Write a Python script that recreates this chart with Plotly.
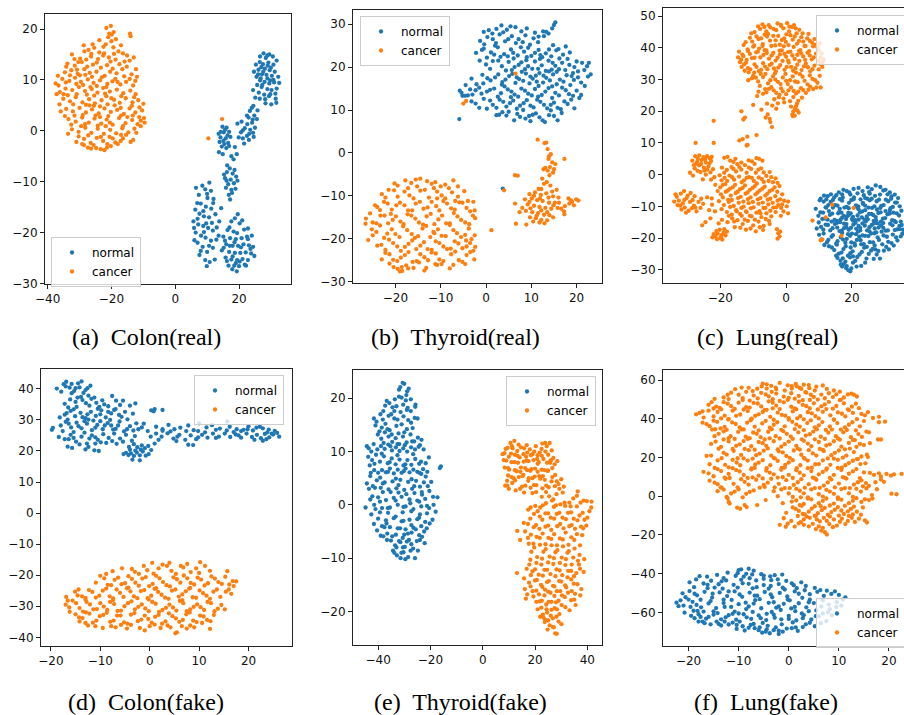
import plotly.graph_objects as go

# ---------------- data (t-SNE coordinates) ----------------
colon_real_cancer = [
(-21.6,20.2),(-20.2,20.6),(-19.3,19.4),(-21.0,18.4),(-20.0,17.6),(-18.6,18.0),(-14.2,19.1),(-14.0,18.6),(-21.8,17.0),(-19.4,16.4),
(-28.5,15.6),(-27.2,15.9),(-25.4,16.3),(-23.8,15.4),(-22.5,16.5),(-17.8,15.6),(-16.4,15.2),(-15.1,14.8),(-26.4,14.6),(-24.2,14.1),(-20.8,14.4),(-18.7,14.0),(-32.4,15.0),(-29.8,14.2),
(-33.8,13.2),(-31.5,12.8),(-29.3,13.5),(-27.6,12.6),(-25.8,13.0),(-23.3,12.4),(-21.4,12.9),(-19.6,12.2),(-17.5,13.1),(-15.2,12.6),(-12.3,12.1),(-34.6,11.5),(-30.6,11.2),(-28.2,11.0),(-24.7,11.6),(-22.1,10.8),(-18.4,11.3),(-16.0,10.7),(-13.7,11.1),
(-35.4,10.2),(-33.2,9.8),(-31.4,10.4),(-29.6,9.6),(-27.4,10.1),(-25.6,9.4),(-23.6,9.9),(-21.3,9.2),(-19.7,9.7),(-17.2,9.1),(-15.4,9.6),(-13.2,8.9),(-37.5,9.3),(-36.2,7.6),(-34.4,8.3),(-32.3,8.0),(-30.2,8.6),(-28.3,7.8),(-26.2,8.2),(-24.4,7.5),(-22.6,8.4),(-20.5,7.7),(-18.3,8.1),(-16.3,7.4),(-14.1,7.9),(-12.4,7.2),
(-35.1,6.3),(-33.0,5.8),(-31.2,6.6),(-29.1,5.6),(-27.0,6.2),(-25.2,5.4),(-23.1,6.0),(-21.2,5.2),(-19.2,6.1),(-17.4,5.5),(-15.5,6.4),(-13.4,5.6),(-11.6,6.0),(-34.2,4.3),(-32.1,3.8),(-30.0,4.5),(-28.0,3.6),(-26.1,4.2),(-24.0,3.4),(-22.2,4.4),(-20.2,3.7),(-18.2,4.1),(-16.1,3.3),(-14.3,4.4),(-12.5,3.6),(-10.4,4.0),(-9.8,2.5),(-9.6,1.6),(-10.8,2.0),
(-33.5,2.3),(-31.2,1.8),(-29.2,2.6),(-27.1,1.6),(-25.3,2.4),(-23.2,1.4),(-21.5,2.2),(-19.6,1.2),(-17.6,2.5),(-15.6,1.5),(-13.5,2.1),(-11.8,1.3),(-32.4,0.3),(-30.3,-0.2),(-28.2,0.6),(-26.3,-0.4),(-24.3,0.4),(-22.4,-0.6),(-20.4,0.2),(-18.5,-0.5),(-16.6,0.5),(-14.7,-0.3),(-12.8,0.4),
(-31.0,-2.2),(-28.6,-1.6),(-26.5,-2.4),(-24.6,-1.4),(-22.6,-2.0),(-20.6,-1.2),(-18.8,-2.3),(-16.4,-1.5),(-14.0,-2.2),(-13.2,-1.8),(-27.4,-3.3),(-25.6,-2.8),(-23.4,-3.6),(-22.2,-3.8),(-20.2,-3.0),(-18.0,-2.6),(-24.8,-3.4),
(-30.8,12.0),(-26.8,11.4),(-20.3,13.6),(-23.0,10.5),(-28.9,9.0),(-18.8,10.2),(-33.7,7.0),(-27.7,7.1),(-21.6,6.8),(-25.5,4.9),(-19.0,5.0),(-31.6,3.0),(-15.0,2.7),(-23.6,2.7),(-29.5,0.9),(-21.8,0.9),(-17.0,-0.8),(-26.9,5.0),
(10.4,-1.5),(14.7,2.3),
]
colon_real_cancer_more = [
(-20.7,19.1),(-19.9,18.9),(-22.3,15.2),(-26.3,15.1),(-19.2,15.1),(-24.6,13.4),(-28.5,12.1),(-32.6,11.9),(-16.6,12.1),(-14.3,13.8),(-20.4,11.6),(-26.1,10.6),(-29.9,10.9),(-34.3,9.5),(-36.6,8.9),(-31.0,9.2),(-24.6,8.8),(-18.1,9.6),(-14.3,10.2),(-12.5,9.8),(-21.6,8.6),(-30.9,7.2),(-35.0,7.2),(-25.4,6.9),(-16.9,6.8),(-12.9,6.6),(-20.0,6.4),(-28.0,5.1),(-32.0,5.2),(-36.3,5.2),(-23.6,4.8),(-17.1,4.5),(-13.6,4.9),(-11.2,4.6),(-10.0,5.3),(-29.0,3.1),(-25.0,3.0),(-21.0,2.9),(-17.0,3.0),(-13.3,3.0),(-11.3,2.7),(-34.6,2.9),(-32.6,1.2),(-28.3,1.3),(-24.3,1.0),(-20.5,1.6),(-16.4,0.9),(-12.2,-0.4),(-10.8,0.9),(-30.3,-1.1),(-27.3,-0.9),(-23.3,-1.2),(-19.6,-1.5),(-15.4,-0.8),(-26.4,-3.5),(-21.3,-2.6),(-17.1,-2.0),(-29.2,-2.6),(-33.6,-0.6),(-35.9,3.8),(-37.2,7.2),(-36.8,10.8),(-34.2,12.6),(-31.6,14.1),(-28.7,16.8),(-25.9,17.0),(-23.8,17.8),(-17.0,16.8),(-15.9,13.6),(-13.0,14.4),(-12.0,10.6),(-22.6,14.8),(-27.9,14.0),(-30.4,13.5),(-26.6,8.6),(-22.0,7.3),(-33.0,10.9),(-21.4,-3.3),(-28.6,-2.8),
]
colon_real_normal = [
(27.7,15.2),(29.5,15.0),(30.6,14.6),(28.4,14.3),(26.5,13.5),(25.3,13.0),(27.5,13.1),(29.2,13.4),(30.8,13.0),(28.1,12.2),(26.1,12.0),(24.7,11.6),(29.6,11.9),(31.2,11.6),(27.2,11.1),(28.6,11.0),(30.3,10.8),(25.5,10.6),(32.3,10.6),(26.6,9.9),(28.0,9.6),(29.5,9.3),(31.0,9.5),(25.7,9.0),(27.1,8.6),(28.9,8.2),(30.2,8.0),(31.8,8.3),(26.2,7.5),(27.9,7.1),(29.4,6.8),(31.5,6.3),(25.1,6.5),(30.1,5.2),(28.3,5.4),(31.7,5.5),(27.0,12.5),(28.9,10.3),(30.0,12.4),(26.8,10.3),(29.8,9.9),
(24.5,4.9),(25.8,4.0),(23.4,3.9),(24.8,3.0),(23.0,2.6),(25.6,2.3),(24.1,1.6),(22.6,1.3),(25.0,0.6),(23.5,0.2),(21.8,0.5),(24.4,-0.4),(20.6,-0.3),(22.5,-1.0),(21.2,-1.5),(19.9,-1.3),(23.1,-1.8),(21.6,-2.5),(24.6,-1.2),(19.5,1.4),(20.8,1.8),
(18.7,-3.2),(19.3,-4.6),(18.3,-5.6),(17.6,-5.0),
(14.8,0.8),(16.1,0.6),(13.6,-0.6),(15.2,-0.3),(16.9,-0.2),(14.2,-1.3),(15.8,-1.5),(17.3,-1.2),(13.9,-2.2),(15.4,-2.6),(16.6,-2.4),(14.6,-3.1),(16.0,-3.4),(14.9,-4.6),(13.7,-4.2),
(17.1,-7.4),(16.2,-8.1),(18.0,-8.4),(19.1,-9.0),(15.6,-9.3),(17.4,-9.6),(16.6,-10.5),(18.4,-10.3),(15.9,-11.2),(17.6,-11.6),(16.8,-12.6),(17.2,-13.5),(19.5,-9.8),(15.3,-8.6),
(10.7,-10.2),(9.4,-11.5),(11.2,-11.8),(6.5,-11.2),(7.4,-12.6),(10.1,-13.2),(12.0,-13.4),(8.0,-14.3),(9.6,-14.9),(11.3,-15.3),(6.3,-15.5),(7.6,-16.3),(9.0,-16.8),(10.6,-17.0),(12.6,-16.4),(13.8,-17.8),(5.7,-17.8),(7.2,-18.4),(8.8,-18.7),(10.3,-19.1),(11.8,-19.6),(6.4,-20.0),(8.1,-20.6),(9.5,-21.0),(11.2,-21.6),(7.0,-22.0),(12.9,-21.4),(8.6,-22.8),(10.0,-23.8),(7.6,-24.4),(9.4,-25.4),(10.8,-25.8),(9.9,-26.6),(14.4,-15.2),(13.0,-19.0),(5.9,-19.1),(12.4,-25.3),
(19.6,-16.4),(17.6,-17.8),(20.2,-18.2),(16.4,-19.5),(18.3,-19.8),(21.6,-19.4),(15.1,-20.8),(17.2,-21.1),(19.0,-21.3),(20.8,-21.1),(22.5,-20.8),(16.0,-22.3),(18.0,-22.6),(19.7,-22.6),(21.4,-22.3),(23.1,-22.5),(24.4,-22.8),(14.6,-23.5),(16.9,-23.8),(18.7,-24.0),(20.4,-24.0),(22.1,-23.9),(23.8,-24.1),(15.8,-24.9),(17.6,-25.3),(19.4,-25.4),(21.1,-25.2),(22.8,-25.4),(16.7,-26.5),(18.5,-26.5),(20.0,-26.6),(21.8,-26.3),(19.3,-27.6),(17.9,-27.2),(24.0,-20.6),
]
colon_real_normal_more = [
(26.6,14.6),(28.9,14.8),(31.8,13.8),(26.0,11.1),(27.6,11.6),(29.0,12.8),(30.8,10.0),(29.8,7.2),(26.5,6.3),(27.3,9.0),(31.4,7.3),(32.6,9.4),(28.2,6.2),(24.4,8.0),(24.3,2.2),(22.5,3.0),(23.2,-0.6),(24.0,4.5),(21.2,0.1),
(15.6,0.2),(14.3,-0.2),(16.4,-0.9),(15.1,-2.0),(16.9,-3.0),
(16.3,-6.8),(18.6,-7.7),(17.8,-12.2),(16.1,-9.8),(18.9,-11.4),
(8.5,-10.8),(10.0,-12.4),(6.9,-14.2),(8.8,-15.8),(11.9,-14.2),(7.0,-17.3),(9.7,-18.2),(11.5,-18.1),(6.0,-21.5),(9.0,-19.9),(10.6,-22.6),(8.0,-23.6),(11.8,-23.0),(13.6,-20.6),
(18.7,-17.2),(21.0,-17.6),(17.0,-19.0),(19.4,-20.1),(22.8,-19.2),(15.6,-21.6),(18.6,-21.9),(20.6,-22.9),(22.8,-21.3),(24.8,-24.6),(15.2,-23.0),(18.0,-24.7),(20.2,-25.7),(22.2,-26.5),(16.2,-25.6),(19.0,-26.0),(17.1,-22.6),(23.6,-23.2),
]

thyroid_real_normal = [
(0.6,28.6),(2.3,28.9),(3.4,29.7),(5.4,29.5),(6.5,29.3),(9.0,29.0),(12.6,28.3),(13.3,28.2),(15.0,29.8),(15.3,30.4),(14.6,29.0),(4.6,28.7),
(-1.3,26.1),(0.3,27.0),(1.5,26.5),(3.0,27.6),(4.2,26.0),(5.7,27.2),(7.2,26.5),(8.7,27.4),(10.5,26.7),(12.8,27.2),(6.6,25.6),(-0.4,25.3),(2.2,25.6),(9.7,25.2),(14.8,25.1),(17.6,24.8),(11.5,25.8),
(-2.2,23.3),(-0.5,24.3),(1.1,23.4),(2.6,24.6),(4.0,23.0),(5.5,24.1),(7.0,22.7),(8.4,23.6),(10.0,22.6),(11.6,24.0),(13.2,23.2),(15.5,23.9),(17.0,22.9),(0.2,22.2),(3.2,22.4),(6.1,22.0),(9.3,24.5),(12.4,22.3),(14.4,22.5),
(0.0,20.6),(1.5,21.4),(3.5,20.2),(5.0,21.2),(6.3,20.0),(7.8,21.1),(9.3,20.2),(10.8,21.3),(12.3,20.4),(13.8,21.5),(15.3,20.3),(16.8,21.0),(18.4,20.5),(20.0,21.3),(21.2,21.0),(22.3,20.2),(8.6,19.5),(11.5,19.6),(14.5,19.4),(4.4,19.2),(17.5,19.3),(19.5,20.0),
(-3.2,17.3),(-0.8,18.2),(1.0,16.9),(2.7,18.3),(4.3,17.1),(5.8,18.4),(7.3,17.2),(8.8,18.5),(10.3,17.3),(11.8,18.6),(13.3,17.5),(14.8,18.3),(16.3,17.1),(17.8,18.1),(19.4,17.0),(21.0,16.4),(22.5,17.8),(6.5,16.3),(9.6,16.2),(12.6,16.4),(15.6,16.0),(3.5,15.9),(18.6,15.8),(11.0,18.0),(13.9,19.0),(7.9,18.9),
(-5.8,14.5),(-4.5,15.8),(-3.0,13.6),(-1.5,15.2),(0.2,14.3),(1.8,15.0),(3.3,13.9),(4.8,14.8),(6.3,13.6),(7.8,15.0),(9.3,13.8),(10.8,14.9),(12.3,13.5),(13.8,15.1),(15.3,14.0),(16.8,15.2),(18.3,13.7),(20.0,14.5),(21.0,13.5),(-4.0,13.4),(-2.3,14.6),(-0.6,16.2),(5.5,13.0),(11.5,13.1),(14.6,12.8),
(-2.3,11.5),(-0.5,12.6),(1.5,11.2),(3.0,12.4),(4.5,10.8),(6.0,12.2),(7.5,11.0),(9.0,12.3),(10.5,10.6),(12.0,11.9),(13.5,10.4),(15.0,11.7),(16.5,10.2),(18.0,11.4),(19.5,10.4),(0.2,10.3),(8.2,10.0),(14.3,9.9),(-1.5,10.5),
(2.3,8.8),(2.9,8.9),(4.5,8.7),(6.2,7.6),(7.5,8.4),(9.5,8.6),(11.0,9.2),(12.5,7.6),(13.0,7.2),(15.0,8.6),(16.7,9.3),(-5.9,7.9),(10.3,8.9),(5.0,9.6),
(3.7,-8.3),
]
thyroid_real_normal_more = [
(1.4,27.8),(3.8,28.1),(7.8,28.3),(10.8,28.0),(13.8,27.8),(4.9,26.5),(8.1,25.8),(11.6,27.1),(-0.9,24.0),(1.8,22.9),(4.8,22.5),(7.7,24.6),(10.8,23.3),(13.9,24.1),(16.2,22.0),(18.5,23.4),(-1.4,21.5),(0.9,19.6),(2.7,21.5),(5.7,19.3),(7.2,20.5),(8.9,21.6),(10.2,19.6),(11.9,21.9),(13.2,19.1),(14.7,21.0),(16.1,19.5),(18.0,21.9),(19.2,18.6),(21.7,19.3),(23.1,18.3),(-2.1,16.0),(0.3,17.4),(2.0,17.6),(3.6,16.5),(5.1,17.9),(6.8,17.6),(8.2,16.8),(9.8,17.8),(11.2,16.6),(12.7,18.0),(14.1,16.9),(15.6,18.9),(17.1,16.6),(18.9,17.9),(20.3,17.6),(21.8,15.6),(-5.2,13.3),(-3.5,14.8),(-1.0,13.8),(0.9,14.7),(2.6,13.1),(4.1,15.5),(5.6,14.3),(7.1,13.1),(8.6,14.5),(10.1,13.4),(11.6,15.6),(13.1,14.3),(14.6,15.5),(16.1,13.4),(17.6,14.6),(19.2,13.3),(20.6,12.8),(-3.2,12.0),(0.9,12.2),(2.3,10.5),(3.8,11.9),(5.3,11.6),(6.8,10.3),(8.3,11.6),(9.8,11.0),(11.3,12.4),(12.8,11.2),(14.3,11.2),(15.8,10.5),(17.3,12.0),(18.8,12.4),(3.6,9.5),(6.9,9.1),(8.7,8.0),(11.8,8.3),(13.9,8.8),(15.8,7.6),(9.8,7.4),(-5.4,14.0),(-4.6,13.3),(20.3,19.0),(22.7,21.0),(-0.5,28.2),(2.0,25.0),(16.0,24.2),(6.0,23.3),(9.0,22.3),(12.0,22.8),
]
thyroid_real_cancer = [
(-15.5,-6.2),(-14.5,-6.0),(-13.0,-6.6),(-7.2,-6.4),(-9.0,-7.4),(-20.2,-7.1),(-19.5,-7.6),(-12.0,-7.2),(-10.0,-7.8),(-16.5,-7.0),
(-23.0,-9.6),(-21.5,-8.6),(-19.5,-10.2),(-18.0,-9.0),(-16.0,-10.6),(-14.5,-8.8),(-12.6,-10.4),(-10.8,-9.0),(-9.0,-10.6),(-7.5,-9.2),(-6.2,-10.2),(-4.0,-11.2),(-17.2,-8.2),(-11.5,-8.2),
(-24.0,-12.6),(-22.5,-11.4),(-20.8,-13.2),(-19.0,-11.6),(-17.2,-13.4),(-15.5,-11.8),(-13.8,-13.0),(-12.0,-11.4),(-10.3,-13.4),(-8.6,-11.8),(-6.9,-13.2),(-5.2,-11.6),(-3.5,-13.6),(-18.0,-12.2),(-11.0,-12.4),
(-26.5,-15.3),(-25.0,-16.2),(-23.3,-14.6),(-21.6,-16.4),(-19.9,-14.8),(-18.2,-16.6),(-16.5,-14.6),(-14.8,-16.2),(-13.1,-14.8),(-11.4,-16.6),(-9.7,-14.6),(-8.0,-16.4),(-6.3,-14.8),(-4.6,-16.2),(-2.9,-14.6),(-20.6,-15.6),(-15.6,-15.3),(-10.5,-15.5),(-5.5,-15.6),
(-26.0,-20.3),(-24.2,-18.4),(-22.5,-19.8),(-20.8,-17.8),(-19.1,-19.6),(-17.4,-18.0),(-15.7,-19.8),(-14.0,-17.6),(-12.3,-19.6),(-10.6,-17.8),(-8.9,-19.4),(-7.2,-18.0),(-5.5,-19.6),(-3.8,-17.6),(-2.5,-19.2),(-21.8,-18.8),(-16.4,-18.9),(-11.4,-18.7),(-6.4,-18.7),
(-24.0,-21.6),(-22.2,-22.6),(-20.5,-21.0),(-18.8,-22.8),(-17.1,-21.2),(-15.4,-22.4),(-13.7,-20.8),(-12.0,-22.6),(-10.3,-21.0),(-8.6,-22.4),(-6.9,-20.6),(-5.2,-22.2),(-3.5,-21.0),(-2.8,-22.8),(-19.6,-21.8),(-14.5,-21.6),(-9.4,-21.8),(-4.3,-21.8),
(-23.0,-24.8),(-21.3,-23.6),(-19.6,-25.2),(-17.9,-23.8),(-16.2,-25.4),(-14.5,-23.6),(-12.8,-25.0),(-11.1,-23.4),(-9.4,-25.2),(-7.7,-23.6),(-6.0,-25.0),(-4.3,-23.8),(-2.6,-24.8),(-18.8,-24.4),(-13.6,-24.3),
(-20.4,-26.6),(-19.5,-27.0),(-18.5,-27.5),(-17.6,-26.2),(-16.0,-26.8),(-11.2,-25.9),(-8.0,-26.9),(-10.8,-26.1),
(11.4,3.1),(13.3,2.4),(12.9,2.3),(13.6,0.9),(14.3,-0.3),(13.8,-1.4),(14.6,-2.2),(15.3,-2.6),(13.1,-3.5),(14.1,-3.3),(13.6,-4.1),(12.7,-3.8),(15.0,-3.8),(17.3,-1.4),(6.4,-5.2),(7.0,-5.3),(4.0,-8.7),(1.2,-18.0),
(12.8,-7.2),(13.4,-6.8),(14.2,-7.6),(15.6,-8.6),(11.6,-8.4),(9.6,-9.6),(10.8,-9.2),(12.1,-9.8),(13.3,-9.4),(14.8,-10.1),(16.0,-10.4),(8.6,-10.8),(10.1,-10.6),(11.3,-11.0),(12.5,-11.2),(13.9,-11.6),(15.2,-11.6),(6.4,-11.8),(9.2,-12.0),(10.6,-12.3),(11.8,-12.6),(13.1,-12.8),(14.4,-13.0),(15.8,-12.8),(7.4,-13.8),(8.8,-13.5),(10.2,-13.8),(11.5,-14.0),(12.8,-14.4),(14.0,-14.5),(9.7,-15.0),(11.0,-15.2),(12.2,-15.6),(13.5,-15.7),(12.9,-16.4),(6.6,-16.5),(8.9,-16.7),(11.8,-16.2),(17.2,-13.6),(17.3,-14.3),
(18.2,-10.6),(18.7,-11.0),(19.0,-11.4),(19.9,-10.8),(20.4,-11.1),(18.4,-11.8),(19.4,-12.2),(17.4,-12.4),
(6.5,18.5),(-5.0,11.5),(-4.4,12.1),
]
thyroid_real_cancer_more = [
(-17.8,-6.4),(-11.2,-6.8),(-8.2,-8.2),
(-22.2,-10.4),(-20.3,-8.7),(-16.9,-9.9),(-13.5,-8.6),(-9.8,-9.9),(-6.8,-11.2),(-4.8,-8.9),
(-23.4,-13.3),(-21.7,-11.8),(-16.3,-13.4),(-14.6,-11.4),(-12.9,-12.7),(-9.4,-11.2),(-7.7,-12.9),(-5.9,-11.5),(-4.3,-12.8),(-2.8,-11.4),
(-25.6,-14.1),(-24.2,-16.4),(-22.4,-14.6),(-18.9,-16.0),(-17.3,-14.3),(-13.9,-16.7),(-12.2,-14.2),(-8.8,-16.4),(-7.1,-14.0),(-3.7,-16.6),(-2.4,-15.2),
(-25.2,-17.8),(-23.4,-16.9),(-20.0,-18.9),(-18.3,-17.1),(-15.0,-19.4),(-13.2,-17.0),(-9.8,-19.3),(-8.0,-16.8),(-4.6,-19.1),(-3.2,-20.1),
(-25.0,-19.2),(-23.1,-21.4),(-21.4,-20.2),(-17.9,-21.9),(-16.3,-20.4),(-12.9,-22.4),(-11.1,-20.6),(-7.8,-22.3),(-6.1,-21.1),(-4.4,-20.4),(-2.4,-21.9),
(-22.2,-23.3),(-20.5,-24.9),(-17.1,-23.1),(-15.3,-25.2),(-12.0,-23.2),(-10.3,-24.8),(-6.8,-23.0),(-5.2,-25.4),(-3.5,-23.1),
(-21.3,-25.8),(-18.6,-26.6),(-14.8,-25.5),(-13.2,-26.8),(-9.8,-25.9),(-7.2,-26.1),(-4.6,-25.9),(-19.0,-27.6),(-17.2,-26.9),(-13.6,-27.4),
(-24.5,-12.2),(-26.6,-16.5),(-19.8,-12.2),(-10.8,-10.6),(-15.2,-7.8),(-6.2,-7.8),(-2.5,-13.4),(-21.0,-14.2),(-11.6,-18.4),
(12.2,-8.4),(14.6,-9.0),(10.6,-10.0),(13.8,-10.4),(11.9,-10.6),(9.6,-11.4),(14.9,-12.2),(12.2,-13.4),(9.8,-12.9),(13.5,-13.8),(11.2,-14.6),(10.4,-16.0),(14.8,-15.0),(16.1,-11.6),(8.0,-12.8),(12.4,-6.0),(14.0,-5.2),(13.9,-0.8),(14.8,-4.6),(16.6,-13.0),
]

lung_real_normal = [
(27.2,-3.4),(24.8,-4.0),(22.0,-4.2),(20.5,-4.5),(18.4,-5.2),(16.0,-5.6),(29.5,-5.0),(31.5,-5.6),(30.2,-4.8),(13.6,-6.2),(11.5,-6.6),(12.6,-6.8),(15.2,-6.5),(17.0,-6.2),(19.5,-6.3),(21.7,-5.9),(23.6,-6.5),(25.4,-6.0),(27.0,-6.7),(28.5,-6.3),(32.0,-6.9),(33.0,-6.3),
(9.0,-10.8),(11.4,-8.5),(12.8,-9.6),(14.2,-8.0),(15.6,-9.8),(17.0,-8.2),(18.4,-10.2),(19.8,-8.0),(21.2,-9.7),(22.6,-7.8),(24.0,-9.8),(25.4,-8.1),(26.8,-10.0),(28.2,-7.9),(29.6,-9.6),(31.0,-8.4),(32.4,-10.2),(33.6,-8.8),(34.5,-10.0),(10.5,-7.6),(16.3,-10.8),(22.0,-10.9),(27.6,-11.0),(23.3,-8.9),
(9.8,-13.0),(11.2,-12.0),(12.6,-14.2),(14.0,-12.3),(15.4,-14.6),(16.8,-12.0),(18.2,-14.0),(19.6,-12.2),(21.0,-14.4),(22.4,-11.9),(23.8,-14.2),(25.2,-12.4),(26.6,-14.6),(28.0,-12.1),(29.4,-13.9),(30.8,-12.5),(32.2,-14.4),(33.6,-12.2),(34.8,-14.8),(17.5,-13.0),(24.5,-13.2),(20.3,-13.3),(27.2,-13.4),(13.0,-11.5),(31.5,-11.3),
(10.6,-16.5),(12.0,-15.8),(13.4,-17.6),(14.8,-15.6),(16.2,-17.8),(17.6,-15.5),(19.0,-17.4),(20.4,-15.8),(21.8,-18.0),(23.2,-15.4),(24.6,-17.6),(26.0,-15.9),(27.4,-18.2),(28.8,-16.0),(30.2,-17.7),(31.6,-15.5),(33.0,-17.5),(34.4,-16.2),(35.5,-17.4),(18.3,-16.6),(22.5,-16.8),(25.3,-16.6),(20.0,-18.6),(15.5,-16.7),(29.5,-16.8),
(10.8,-20.4),(12.4,-21.3),(13.8,-19.6),(15.2,-21.8),(16.6,-19.8),(18.0,-21.5),(19.4,-19.3),(20.8,-21.7),(22.2,-19.6),(23.6,-21.9),(25.0,-19.4),(26.4,-21.4),(27.8,-19.8),(29.2,-22.0),(30.6,-19.6),(32.0,-21.6),(33.4,-19.8),(34.8,-19.5),(17.3,-20.5),(21.5,-20.6),(13.0,-22.6),(19.6,-23.0),(24.5,-22.8),(31.2,-23.6),
(14.6,-23.8),(16.0,-24.9),(17.4,-23.5),(18.8,-25.6),(20.2,-24.2),(21.6,-26.0),(23.0,-24.4),(24.4,-26.5),(25.8,-24.0),(27.5,-25.2),(28.5,-26.5),(16.5,-27.2),(17.5,-28.2),(18.2,-29.5),(18.9,-30.2),(17.0,-29.0),(20.3,-27.8),(22.8,-28.8),(15.6,-26.3),(19.5,-30.5),(26.3,-23.4),(29.7,-24.0),
(19.0,-12.8),(21.3,-17.1),(23.0,-13.5),(25.8,-18.6),(18.8,-18.8),(22.8,-22.0),(26.9,-17.0),(24.0,-11.2),(28.8,-14.8),(16.5,-14.2),
]
lung_real_normal_more = [
(26.0,-4.6),(23.2,-5.2),(28.6,-3.9),(19.2,-5.6),(17.4,-4.8),(14.6,-7.2),(12.2,-7.8),(30.8,-6.2),(34.0,-7.4),(25.2,-5.5),
(10.2,-8.1),(12.0,-10.3),(13.5,-8.6),(14.9,-9.6),(16.3,-7.7),(17.7,-10.4),(19.1,-8.9),(20.5,-7.8),(21.9,-10.0),(23.3,-9.2),(24.7,-7.6),(26.1,-10.5),(27.5,-8.4),(28.9,-9.9),(30.3,-7.9),(31.7,-10.6),(33.1,-8.8),(35.0,-11.4),
(10.4,-11.9),(11.9,-13.9),(13.3,-12.7),(14.7,-14.3),(16.1,-11.8),(17.0,-13.6),(18.9,-12.1),(20.3,-14.5),(21.7,-12.9),(23.1,-11.6),(24.8,-14.1),(25.9,-12.4),(27.3,-14.4),(28.7,-11.9),(30.1,-13.7),(31.5,-12.3),(32.9,-14.6),(34.3,-12.9),
(9.9,-15.1),(11.3,-17.4),(12.7,-15.9),(14.1,-16.9),(15.5,-15.2),(16.9,-17.7),(18.3,-15.6),(19.7,-16.8),(21.1,-15.2),(22.5,-17.6),(23.9,-16.1),(25.3,-17.9),(26.7,-15.4),(28.1,-16.7),(29.5,-15.3),(30.9,-17.6),(32.3,-16.0),(33.7,-17.3),(35.1,-15.9),
(11.4,-18.6),(12.8,-20.6),(14.2,-19.1),(15.6,-21.0),(17.0,-18.4),(18.4,-20.3),(19.8,-21.4),(21.2,-18.8),(22.6,-20.7),(24.0,-19.3),(25.4,-21.3),(26.8,-18.5),(28.2,-20.6),(29.6,-19.2),(31.0,-21.2),(32.4,-18.9),(33.8,-20.8),(35.3,-18.6),
(11.6,-22.2),(13.9,-23.0),(15.4,-22.1),(16.8,-24.6),(18.1,-22.6),(19.5,-24.8),(20.9,-22.4),(22.3,-25.2),(23.7,-23.1),(25.1,-25.0),(26.9,-22.3),(28.0,-24.1),(30.4,-22.8),(32.7,-22.4),(27.1,-23.6),
(15.2,-25.6),(17.2,-26.4),(18.0,-27.5),(19.4,-26.1),(21.0,-27.2),(24.0,-27.8),(26.6,-26.6),(16.6,-28.4),(18.4,-28.9),(19.8,-29.6),(21.4,-29.0),(20.3,-25.8),
(12.2,-10.4),(11.0,-14.0),(9.3,-17.0),(10.0,-19.0),(20.0,-14.0),(22.0,-14.2),(24.2,-14.8),(26.5,-12.8),(18.5,-13.2),(15.8,-12.2),(13.8,-14.8),(16.4,-15.0),(17.6,-16.9),(22.0,-16.2),(27.8,-15.4),(28.6,-10.5),(26.0,-7.6),(20.6,-7.2),(17.2,-7.2),(14.2,-10.4),(30.2,-11.5),(32.6,-12.0),(31.9,-7.6),(33.3,-15.0),(34.5,-17.2),(24.0,-7.4),(21.6,-10.4),(25.0,-10.4),(19.0,-10.6),(29.0,-18.0),(23.2,-19.2),
]
lung_real_cancer = [
(-8.5,46.8),(-7.2,47.4),(-6.0,45.2),(-4.8,46.5),(-3.0,45.6),(-1.5,46.9),(-2.6,47.7),(0.3,47.8),(1.8,46.6),(2.4,47.2),(-9.6,45.0),(-10.6,44.6),(4.0,45.7),(-5.5,44.4),(0.9,45.2),(3.2,44.6),
(-12.3,41.8),(-11.0,43.2),(-9.7,40.8),(-8.4,42.8),(-7.1,41.2),(-5.8,43.6),(-4.5,40.6),(-3.2,42.4),(-1.9,41.0),(-0.6,43.0),(0.7,40.9),(2.0,42.6),(3.3,41.3),(4.6,43.4),(5.9,40.6),(7.2,42.2),(8.6,41.0),(9.5,40.2),(-10.3,42.0),(-6.5,44.2),(-2.4,43.8),(1.3,44.0),(5.2,42.0),(-0.1,41.9),
(-14.3,38.8),(-13.0,37.4),(-11.7,39.5),(-10.4,36.8),(-9.1,38.6),(-7.8,37.0),(-6.5,39.3),(-5.2,36.6),(-3.9,38.4),(-2.6,36.9),(-1.3,39.2),(0.0,37.2),(1.3,38.8),(2.6,36.5),(3.9,39.0),(5.2,37.3),(6.5,38.5),(7.8,36.4),(9.1,38.2),(10.4,37.0),(-12.0,36.2),(-8.2,39.8),(-4.4,37.6),(-0.5,38.1),(3.4,37.8),(7.2,37.6),(11.0,35.5),(-14.6,37.0),(-13.7,36.3),
(-13.5,34.0),(-12.2,35.3),(-10.9,33.2),(-9.6,34.8),(-8.3,32.7),(-7.0,35.2),(-5.7,33.3),(-4.4,35.0),(-3.1,32.6),(-1.8,34.6),(-0.5,33.1),(0.8,35.4),(2.1,32.8),(3.4,34.7),(4.7,33.0),(6.0,35.0),(7.3,32.6),(8.6,34.4),(9.9,33.2),(11.0,34.0),(-6.4,34.1),(-2.4,33.8),(1.5,34.0),(5.4,34.2),(-11.4,32.3),(-9.7,32.2),
(-11.5,29.8),(-10.0,31.2),(-8.5,29.4),(-7.0,30.8),(-5.5,28.8),(-4.0,31.0),(-2.5,29.3),(-1.0,30.7),(0.5,28.6),(2.0,31.0),(3.5,29.2),(5.0,30.9),(6.5,28.5),(8.0,30.2),(9.5,29.0),(-6.3,31.8),(-0.2,31.8),(4.2,31.7),(1.2,29.8),(-3.3,30.0),(10.5,27.5),(7.3,27.8),
(-6.0,26.0),(-4.5,27.6),(-3.0,25.8),(-1.5,27.2),(0.0,25.4),(1.5,27.5),(3.0,25.6),(4.5,27.3),(6.0,25.8),(-2.2,24.4),(-0.8,24.0),(2.2,24.5),(3.7,23.3),(-3.6,23.8),(-1.0,26.3),
(1.5,21.5),(2.2,20.0),(3.0,21.6),(3.8,19.6),(2.6,18.6),(1.9,19.0),(3.3,22.4),(2.7,20.8),(-2.5,22.5),(-3.0,20.8),
(-5.6,19.0),(-5.0,17.6),(-4.8,16.6),(-4.3,15.0),(-6.2,18.0),(-5.8,22.4),(-4.2,21.8),
(-22.0,17.0),(-13.0,17.4),(-12.5,18.0),(-8.4,26.2),(-8.8,24.8),(-10.0,22.0),(-11.8,12.0),(-13.2,11.2),(-14.2,10.8),(-12.0,9.2),(-11.7,9.4),(-9.0,12.5),(-27.5,10.0),(-22.0,10.0),(-7.0,25.5),(-6.4,27.0),(-13.6,20.0),(-7.5,20.5),
(-27.6,5.8),(-26.4,6.1),(-25.1,5.5),(-24.0,5.8),(-23.2,5.2),(-28.5,4.4),(-27.0,4.0),(-25.7,4.6),(-24.4,3.8),(-22.8,4.3),(-26.4,2.9),(-25.0,2.2),(-23.6,2.6),(-22.2,1.7),(-27.8,2.0),(-26.0,0.8),(-24.4,0.0),(-23.0,0.7),(-21.8,-0.8),(-29.2,0.6),(-28.3,-0.3),(-25.3,-1.5),(-27.4,3.4),(-24.8,1.3),
(-18.8,5.3),(-17.8,5.6),(-16.0,4.0),(-10.4,4.2),(-9.0,5.2),(-8.2,5.0),(-12.5,3.0),(-14.8,3.3),(-19.5,2.2),(-18.0,1.5),(-16.6,2.4),(-15.2,1.0),(-13.6,1.6),(-12.0,0.6),(-10.6,1.8),(-9.2,0.6),(-7.6,2.0),(-6.0,-0.4),(-4.5,-0.8),(-3.2,-1.2),(-20.2,-0.2),(-18.7,-1.0),(-17.2,-0.3),(-15.8,-1.6),(-14.3,-0.6),(-12.8,-1.8),(-11.3,-0.8),(-9.8,-2.0),(-8.3,-0.9),(-6.8,-2.3),(-5.3,-2.0),
(-21.5,-3.2),(-20.0,-4.0),(-18.5,-3.0),(-17.0,-4.4),(-15.5,-3.2),(-14.0,-4.6),(-12.5,-3.4),(-11.0,-4.8),(-9.5,-3.6),(-8.0,-5.0),(-6.5,-3.8),(-5.0,-5.2),(-3.5,-4.0),(-2.0,-3.6),(-19.8,-6.2),(-18.3,-5.4),(-16.8,-6.6),(-15.3,-5.8),(-13.8,-7.0),(-12.3,-6.0),(-10.8,-7.2),(-9.3,-6.2),(-7.8,-7.4),(-6.3,-6.6),(-4.8,-7.6),(-3.3,-6.8),(-1.8,-7.8),(-0.6,-8.2),(0.6,-8.5),(-22.6,-7.5),
(-20.4,-8.4),(-18.9,-9.6),(-17.4,-8.6),(-15.9,-9.9),(-14.4,-8.9),(-12.9,-10.1),(-11.4,-9.0),(-9.9,-10.3),(-8.4,-9.2),(-6.9,-10.5),(-5.4,-9.4),(-3.9,-10.4),(-2.4,-9.6),(-0.8,-11.6),(0.6,-12.2),(-1.5,-10.5),
(-18.0,-11.8),(-16.5,-12.6),(-15.0,-11.6),(-13.5,-13.0),(-12.0,-11.8),(-10.5,-13.2),(-9.0,-12.0),(-7.5,-13.4),(-6.0,-12.2),(-4.5,-13.2),(-3.2,-11.8),(-14.8,-14.4),(-13.2,-15.6),(-11.6,-14.6),(-10.0,-16.0),(-8.4,-14.8),(-6.8,-16.2),(-5.2,-14.6),(-15.6,-16.6),(-12.2,-17.4),(-9.2,-17.9),(-16.4,-13.8),(-19.5,-14.3),(-17.8,-15.0),
(-34.0,-8.5),(-33.2,-7.0),(-32.0,-6.0),(-31.0,-5.2),(-32.6,-8.2),(-31.4,-9.1),(-30.2,-7.4),(-29.2,-8.6),(-28.0,-9.8),(-30.8,-10.4),(-29.6,-11.4),(-28.6,-10.6),(-27.2,-11.6),(-26.6,-8.6),(-27.8,-6.8),(-29.0,-5.8),(-25.2,-9.2),(-31.8,-11.0),(-24.0,-7.2),(-22.5,-9.5),
(-22.4,-19.8),(-21.5,-19.5),(-20.8,-18.6),(-19.8,-19.9),(-19.0,-18.4),(-18.4,-19.2),(-20.2,-17.4),(-21.0,-20.4),(-19.4,-20.5),(-18.8,-17.2),(-20.5,-15.4),(-23.0,-13.8),(-24.5,-15.0),(-25.5,-16.0),(-16.5,-8.0),
(-2.8,-17.2),(-2.4,-18.5),(-2.0,-19.5),(-2.6,-20.2),(-1.8,-18.0),
(14.0,-9.5),(12.0,-13.5),(11.0,-20.5),(16.8,-19.3),(20.5,-10.5),(8.0,-14.5),(10.5,-20.7),
]
lung_real_cancer_more = [
(-7.9,46.0),(-5.3,47.2),(-3.8,46.0),(-0.8,46.2),(1.0,46.7),(2.9,46.2),(-9.0,43.6),(-7.6,43.0),(-4.9,42.3),(-3.9,43.8),(-1.3,42.5),(0.1,44.3),(2.6,43.6),(3.9,42.2),(6.4,43.0),(7.9,41.6),
(-12.9,40.9),(-11.6,39.0),(-10.0,40.4),(-8.6,38.8),(-7.2,40.6),(-6.0,39.2),(-3.3,40.8),(-2.0,39.1),(-0.7,40.5),(0.6,38.7),(2.3,40.3),(4.3,39.3),(5.6,40.6),(7.0,39.0),(8.2,40.5),(9.9,39.2),
(-13.3,37.9),(-11.0,38.1),(-9.6,36.9),(-6.9,37.8),(-5.9,38.4),(-3.2,36.0),(-1.9,37.9),(0.6,36.0),(1.9,37.6),(4.6,38.2),(5.8,36.2),(8.4,37.0),(9.8,35.9),
(-12.8,34.8),(-11.6,33.6),(-9.0,34.0),(-7.6,33.1),(-5.0,34.6),(-3.7,33.5),(-1.1,35.9),(0.2,34.0),(2.8,33.6),(4.0,35.9),(6.6,33.9),(8.0,33.3),(10.4,34.9),
(-10.4,30.4),(-9.2,30.6),(-7.7,31.8),(-4.8,29.8),(-3.4,31.9),(-1.7,28.6),(0.0,29.6),(2.7,29.4),(3.0,32.2),(5.6,29.6),(7.2,31.3),(8.8,29.8),(10.2,31.2),(-5.2,27.1),(-3.8,26.6),(-2.0,25.2),(0.7,26.6),(2.3,26.4),(3.7,26.2),(5.2,26.7),(6.8,26.8),(8.2,27.0),(9.2,27.5),(-1.6,47.3),(-6.6,46.6),(5.0,44.6),(6.8,44.4),(8.6,42.8),(10.2,41.4),(10.8,38.2),(11.4,36.3),(-14.0,35.5),(-12.6,32.8),(-8.0,28.0),(-0.6,22.8),(1.2,23.2),(4.8,24.3),(2.0,18.5),(3.4,20.3),
(-26.8,5.0),(-24.6,4.8),(-22.6,5.6),(-28.0,3.0),(-25.8,3.4),(-23.3,3.5),(-26.9,1.2),(-24.0,1.6),(-22.8,-1.6),(-17.0,4.4),(-15.4,5.0),(-13.6,3.8),(-11.4,4.5),(-9.6,3.4),(-7.2,4.4),(-18.8,0.6),(-16.0,1.8),(-14.2,2.4),(-11.3,2.2),(-8.4,1.6),(-6.8,0.7),(-5.0,0.8),(-19.6,-1.8),(-17.9,-2.0),(-16.4,-0.8),(-13.5,-2.4),(-12.0,-1.0),(-10.4,-1.0),(-8.9,-2.8),(-7.4,-1.4),(-4.0,-2.4),(-2.6,-2.6),
(-20.8,-5.2),(-19.2,-3.2),(-17.7,-5.0),(-16.2,-4.0),(-14.7,-5.4),(-13.2,-4.2),(-11.7,-5.6),(-10.2,-4.2),(-8.7,-5.7),(-7.2,-4.4),(-5.7,-6.0),(-4.2,-4.8),(-2.7,-5.4),(-1.2,-6.2),
(-19.2,-7.2),(-17.6,-8.0),(-14.6,-7.4),(-13.0,-8.5),(-11.6,-7.7),(-10.1,-8.6),(-8.6,-7.8),(-7.1,-8.8),(-5.6,-7.9),(-4.1,-8.9),(-2.6,-8.2),(-1.2,-9.4),(0.2,-10.0),
(-19.6,-10.9),(-17.0,-10.2),(-15.2,-11.2),(-13.6,-10.5),(-12.2,-11.6),(-10.7,-10.6),(-8.1,-11.5),(-6.3,-10.5),(-4.8,-11.4),(-3.0,-10.3),(-1.6,-13.0),
(-17.4,-13.0),(-15.8,-14.8),(-14.0,-12.4),(-12.6,-14.2),(-11.0,-13.0),(-9.5,-14.2),(-7.8,-12.2),(-6.2,-14.0),(-5.0,-15.6),(-13.9,-16.8),(-10.8,-17.0),(-8.0,-16.6),(-7.0,-17.5),
(-33.6,-6.2),(-32.2,-9.8),(-30.9,-8.0),(-29.9,-6.6),(-28.4,-8.0),(-27.6,-10.4),(-26.0,-10.5),(-30.4,-12.0),(-33.0,-9.6),(-21.2,-17.8),(-22.0,-18.8),(-19.6,-19.1),(-20.0,-20.0),(-18.0,-18.0),(-25.8,-7.6),(-23.4,-11.2),(-21.6,-11.6),
]

colon_fake_normal = [
(-18.8,40.1),(-17.4,41.5),(-16.9,42.3),(-17.9,39.1),(-16.2,40.4),(-15.3,39.3),(-14.5,41.8),(-13.8,42.4),(-14.2,40.5),(-13.4,38.7),(-12.6,40.2),(-12.0,41.0),(-15.8,38.6),(-13.0,39.6),
(-17.2,35.2),(-16.1,36.6),(-15.0,35.8),(-13.9,37.4),(-12.9,35.4),(-11.8,36.8),(-10.8,35.5),(-9.6,36.3),(-7.6,37.7),(-6.8,36.2),(-5.4,36.2),(-4.0,34.6),(-2.9,35.3),(-3.4,32.0),(-14.8,34.2),(-12.2,34.6),
(-18.2,30.8),(-17.2,31.7),(-16.0,32.9),(-15.1,31.2),(-14.0,32.3),(-13.0,30.6),(-11.9,32.6),(-10.9,31.3),(-9.8,33.1),(-8.9,30.8),(-7.8,32.1),(-6.9,33.5),(-5.7,31.0),(-4.5,30.2),(0.3,33.1),(1.0,33.5),(2.6,33.2),(0.8,32.8),(-16.6,30.1),(-12.4,30.1),(-8.0,30.0),
(-18.0,28.2),(-17.0,29.4),(-15.9,27.6),(-14.8,29.1),(-13.8,27.3),(-12.7,28.8),(-11.7,26.7),(-10.6,28.4),(-9.5,27.0),(-8.5,29.0),(-7.4,26.9),(-6.4,28.2),(-5.2,26.3),(-4.0,28.0),(-2.7,28.9),(-1.6,27.6),(-0.4,26.4),(1.3,27.8),(2.6,27.0),(3.8,28.4),(5.0,27.0),(6.2,27.5),(7.8,28.2),(8.9,26.7),(10.0,28.9),(11.5,27.6),(12.6,28.3),(14.2,27.2),(15.7,29.5),(16.2,27.8),(17.6,27.0),(19.8,27.0),(20.9,26.6),(22.9,27.3),(24.1,26.9),(25.3,26.5),(22.3,27.8),(-1.2,28.8),(18.5,26.4),
(-17.2,23.8),(-16.0,25.2),(-14.9,23.0),(-13.8,24.6),(-12.7,22.4),(-11.7,25.0),(-10.5,23.6),(-9.4,25.4),(-8.3,24.2),(-7.2,25.6),(-6.0,24.0),(-4.8,25.2),(-3.6,23.3),(1.3,25.6),(2.4,24.6),(3.6,25.7),(4.8,24.0),(6.0,25.2),(7.2,23.6),(8.3,25.0),(9.4,23.8),(10.6,25.2),(11.7,24.3),(12.8,25.6),(14.0,24.6),(15.2,25.6),(16.3,24.5),(17.4,25.3),(18.5,24.3),(19.6,25.6),(20.7,24.5),(21.7,25.2),(22.5,24.1),(23.3,25.5),(24.2,24.4),(25.0,25.3),(26.2,24.6),(21.2,23.6),(22.9,23.3),(23.6,23.8),(7.8,22.0),(8.8,21.9),(1.0,22.4),(-14.2,22.1),(-12.4,21.3),(-16.6,21.4),(2.6,26.5),
(-13.0,20.5),(-11.2,20.2),(-10.3,20.0),(-15.7,21.0),(-4.8,19.4),(-4.3,18.7),(-3.8,19.2),(-3.2,18.4),(-2.6,19.5),(-2.0,18.6),(-1.4,19.8),(-0.8,18.5),(-3.5,17.2),(-2.0,17.0),(-2.5,21.2),(-3.2,22.2),(-1.0,20.9),(0.3,20.3),(-5.3,19.0),(-1.6,21.8),(-0.2,19.0),
(-19.8,26.8),(-19.6,27.4),
(-16.5,34.0),(-13.6,36.4),(-10.2,34.2),(-11.4,29.8),(-9.1,28.2),(-6.1,29.5),(-15.4,26.1),(-13.2,25.9),(-18.4,24.5),(-8.8,22.6),(-11.0,22.4),(-6.7,22.3),(-4.2,21.3),
]
colon_fake_normal_more = [
(-17.0,40.8),(-15.8,41.6),(-15.0,40.2),(-14.6,37.2),(-12.4,37.8),(-11.2,37.2),(-10.5,33.6),(-9.2,35.0),(-8.4,34.4),(-7.2,33.2),(-6.0,34.8),(-16.8,32.2),(-15.4,33.4),(-13.6,30.9),(-12.6,31.8),(-10.0,31.8),(-8.4,32.6),(-6.2,31.6),(-5.0,32.6),(-16.4,28.8),(-14.4,28.0),(-13.2,29.6),(-11.0,27.5),(-10.0,29.6),(-7.8,28.2),(-6.9,27.1),(-4.6,27.0),(-3.3,26.6),(-2.3,27.0),(-17.6,26.4),(-16.4,23.8),(-15.4,24.2),(-12.2,24.0),(-11.0,24.4),(-9.9,22.8),(-7.6,23.2),(-5.4,23.0),(-3.0,24.8),(0.2,24.6),(1.8,23.6),(4.2,26.3),(5.6,24.6),(7.4,26.4),(9.8,26.4),(11.2,26.0),(13.4,26.8),(15.6,26.6),(17.0,26.1),(19.0,26.8),(20.0,28.0),(21.6,27.5),(23.8,26.0),(24.7,25.6),(25.8,25.8),(18.0,25.0),(13.4,24.2),(9.8,24.4),(5.4,23.2),(-1.8,20.4),(-2.9,20.1),(-4.0,20.4),(-0.3,21.6),
]
colon_fake_cancer = [
(-3.0,-18.9),(0.5,-16.0),(10.2,-15.8),(1.8,-17.8),(-0.5,-18.4),(3.5,-17.0),(6.3,-17.0),(6.8,-17.5),(-2.2,-19.6),(5.3,-19.6),(8.3,-19.0),(12.2,-18.6),(15.7,-18.7),(-7.5,-18.7),(10.0,-19.3),(0.8,-19.5),(-3.6,-18.0),(4.4,-18.6),
(-10.9,-22.4),(-9.2,-21.0),(-7.8,-23.2),(-6.4,-20.8),(-5.0,-22.6),(-3.6,-21.2),(-2.2,-23.4),(-0.8,-20.6),(0.6,-22.8),(2.0,-21.0),(3.4,-23.2),(4.8,-20.7),(6.2,-22.4),(7.6,-21.0),(9.0,-23.0),(10.4,-21.4),(11.8,-22.6),(13.2,-21.1),(14.6,-22.8),(16.8,-21.9),(17.5,-22.0),(-4.3,-24.0),(1.3,-24.2),(8.2,-24.1),
(-15.1,-25.3),(-13.7,-26.8),(-12.3,-24.8),(-10.9,-27.2),(-9.5,-25.0),(-8.1,-26.8),(-6.7,-24.6),(-5.3,-27.0),(-3.9,-25.2),(-2.5,-27.4),(-1.1,-24.8),(0.3,-26.6),(1.7,-25.4),(3.1,-27.2),(4.5,-25.0),(5.9,-26.9),(7.3,-25.2),(8.7,-27.1),(10.1,-24.9),(11.5,-26.6),(12.9,-25.3),(14.3,-27.0),(16.5,-26.0),(-14.6,-26.5),(-0.2,-27.8),(6.6,-28.0),(-7.4,-28.0),
(-17.0,-29.5),(-15.6,-28.2),(-14.2,-30.6),(-12.8,-28.6),(-11.4,-31.0),(-10.0,-29.0),(-8.6,-31.2),(-7.2,-29.3),(-5.8,-31.4),(-4.4,-29.0),(-3.0,-31.0),(-1.6,-29.4),(-0.2,-31.6),(1.2,-29.2),(2.6,-31.2),(4.0,-29.5),(5.4,-31.4),(6.8,-29.0),(8.2,-31.0),(9.6,-29.4),(11.0,-31.2),(12.4,-29.0),(13.8,-30.8),(15.2,-31.0),(-16.2,-31.8),(-9.3,-30.1),(-2.3,-30.2),(3.3,-30.5),(10.3,-30.3),
(-15.0,-32.6),(-13.6,-33.8),(-12.2,-32.4),(-10.8,-34.6),(-9.4,-32.8),(-8.0,-35.0),(-6.6,-33.0),(-5.2,-35.2),(-3.8,-32.7),(-2.4,-34.8),(-1.0,-33.0),(0.4,-35.3),(1.8,-32.8),(3.2,-34.9),(4.6,-33.2),(6.0,-35.0),(7.4,-32.6),(8.8,-34.6),(10.2,-33.0),(11.6,-34.4),(13.0,-32.8),(-14.2,-34.9),(-0.3,-34.1),(5.3,-33.9),
(-12.5,-36.2),(-9.5,-37.0),(-7.8,-36.4),(-4.6,-37.2),(-2.0,-37.0),(0.0,-36.4),(2.2,-37.0),(5.2,-38.7),(5.5,-38.4),(7.5,-37.2),(9.0,-36.8),(12.2,-37.3),(-3.8,-36.0),(3.6,-36.2),(-5.8,-36.0),
]
colon_fake_cancer_more = [
(-10.0,-20.2),(-8.5,-23.1),(-7.1,-21.5),(-5.7,-22.9),(-4.3,-20.3),(-2.9,-22.4),(-1.5,-21.1),(-0.1,-23.5),(1.3,-20.2),(2.7,-22.2),(4.1,-23.6),(5.5,-21.3),(6.9,-20.1),(8.3,-22.5),(9.7,-20.8),(11.1,-23.3),(12.5,-20.4),(13.9,-22.2),(15.3,-20.5),(16.1,-23.0),
(-14.4,-24.6),(-13.0,-27.3),(-11.6,-25.4),(-10.2,-26.6),(-8.8,-24.3),(-7.4,-27.5),(-6.0,-25.7),(-4.6,-24.2),(-3.2,-26.8),(-1.8,-25.1),(-0.4,-27.4),(1.0,-24.4),(2.4,-26.3),(3.8,-27.6),(5.2,-24.6),(6.6,-26.2),(8.0,-24.3),(9.4,-27.3),(10.8,-25.8),(12.2,-27.6),(13.6,-24.6),(15.4,-25.3),
(-16.3,-30.4),(-14.9,-29.0),(-13.5,-31.7),(-12.1,-29.4),(-10.7,-30.9),(-8.0,-28.6),(-6.5,-31.5),(-5.1,-30.0),(-3.7,-28.4),(-0.9,-30.7),(0.5,-28.6),(1.9,-31.8),(4.7,-30.4),(6.1,-28.3),(7.5,-31.6),(8.9,-30.2),(11.7,-28.6),(13.1,-31.6),(14.5,-29.6),
(-14.3,-33.6),(-12.9,-32.0),(-11.5,-35.3),(-10.1,-33.2),(-8.7,-32.1),(-7.3,-34.6),(-5.9,-33.0),(-4.5,-35.6),(-3.1,-32.2),(-1.7,-34.3),(1.1,-33.4),(2.5,-35.6),(3.9,-32.3),(6.7,-34.4),(8.1,-32.0),(9.5,-35.1),(10.9,-33.3),(12.3,-34.8),
(-1.2,-17.0),(2.6,-16.6),(4.0,-16.0),(7.6,-16.4),(9.4,-17.8),(11.2,-17.0),(-5.6,-17.8),(-8.8,-19.6),(-11.0,-36.4),(-6.9,-36.8),(-1.0,-37.8),(1.0,-35.9),(4.2,-36.8),(6.5,-36.4),(8.2,-36.2),(10.6,-35.4),(-13.0,-35.4),(-16.6,-28.2),(-16.9,-27.0),(-13.0,-27.8),(17.0,-23.5),(16.0,-24.6),
]

thyroid_fake_normal = [
(-30.6,22.9),(-30.0,22.7),(-31.5,22.1),(-28.3,21.8),(-28.9,21.3),(-32.0,20.3),(-31.0,20.1),(-29.4,19.6),(-36.7,19.5),(-35.7,19.1),(-34.5,18.3),(-37.3,18.6),(-33.0,18.5),(-28.7,18.2),(-25.7,18.8),(-25.8,18.4),(-29.0,17.8),
(-39.1,17.0),(-38.0,17.6),(-36.0,16.7),(-33.8,16.2),(-31.4,17.4),(-30.3,16.6),(-27.5,17.6),(-26.0,16.3),(-24.9,16.2),(-41.6,16.2),(-40.6,15.6),(-41.0,14.9),(-38.6,14.5),(-37.2,15.2),(-35.6,14.0),(-33.0,14.8),(-31.0,15.1),(-29.0,14.2),(-27.4,15.4),(-39.5,13.8),(-36.4,14.2),
(-40.1,13.2),(-38.8,12.4),(-37.4,13.6),(-36.0,12.8),(-34.6,11.8),(-33.3,12.5),(-31.9,11.4),(-30.5,12.8),(-29.1,11.7),(-27.6,13.2),(-26.2,11.9),(-24.8,12.6),(-23.4,12.2),(-41.7,11.4),(-40.3,10.4),(-38.9,11.0),(-37.5,10.5),(-36.1,11.3),(-34.7,10.2),(-33.2,10.8),(-31.8,10.1),(-30.4,10.6),(-28.9,10.0),(-27.4,10.8),(-25.9,10.4),(-24.5,10.9),(-44.3,11.0),(-43.6,10.6),(-20.6,8.9),
(-43.8,9.0),(-42.3,8.4),(-40.8,9.4),(-39.3,8.1),(-37.8,9.1),(-36.3,7.8),(-34.8,8.7),(-33.3,7.6),(-31.8,8.5),(-30.3,7.4),(-28.8,8.4),(-27.3,7.5),(-25.8,8.6),(-24.3,7.7),(-22.8,6.7),(-43.2,7.4),(-41.5,6.5),(-40.0,6.0),(-38.5,6.5),(-37.0,6.1),(-35.5,6.8),(-34.0,5.9),(-32.5,6.6),(-31.0,6.0),(-29.5,6.8),(-28.0,6.1),(-26.5,6.6),(-25.0,6.2),(-23.5,5.8),(-16.0,7.2),(-16.4,6.9),
(-44.3,4.0),(-43.0,5.4),(-42.0,3.5),(-40.5,4.6),(-39.0,3.2),(-37.5,4.2),(-36.0,2.9),(-34.5,4.4),(-33.0,3.1),(-31.5,4.7),(-30.0,2.8),(-28.5,4.3),(-27.0,3.0),(-25.5,4.5),(-24.0,3.4),(-22.5,4.2),(-21.0,3.5),(-19.7,4.3),(-43.5,3.0),(-38.2,2.4),(-32.2,2.3),(-26.1,2.2),(-23.3,2.4),(-21.8,5.3),
(-43.0,1.0),(-41.5,0.0),(-40.0,1.4),(-38.5,-0.6),(-37.0,0.9),(-35.5,-0.5),(-34.0,1.3),(-32.5,0.0),(-31.0,1.5),(-29.5,-0.3),(-28.0,1.0),(-26.5,-0.8),(-25.0,0.8),(-23.5,-0.3),(-22.0,1.1),(-20.5,-0.6),(-19.0,1.5),(-17.3,1.4),(-18.0,-1.3),(-44.8,-0.5),(-41.0,-0.8),(-36.2,-1.5),(-30.6,-1.4),(-24.0,-1.8),(-21.3,-1.6),(-27.7,0.3),
(-41.6,-3.6),(-40.0,-2.6),(-38.5,-4.0),(-37.0,-2.9),(-35.5,-4.2),(-34.0,-2.5),(-32.5,-4.4),(-31.0,-3.1),(-29.5,-4.6),(-28.0,-2.8),(-26.5,-4.3),(-25.0,-2.7),(-23.5,-4.0),(-22.0,-3.2),(-20.3,-3.5),(-19.2,-2.8),(-39.0,-5.8),(-36.5,-5.4),(-33.2,-5.6),(-30.0,-5.6),(-27.2,-5.2),(-24.3,-5.7),(-22.4,-5.0),(-38.0,-5.9),
(-35.1,-6.7),(-33.5,-7.6),(-32.0,-6.8),(-30.5,-8.0),(-29.0,-6.9),(-27.6,-8.6),(-34.3,-8.6),(-32.8,-9.5),(-31.1,-9.0),(-29.6,-10.2),(-30.3,-8.9),(-25.9,-10.0),(-24.0,-6.6),(-22.2,-7.2),(-25.2,-6.8),(-28.5,-9.8),(-33.8,-9.0),
]
thyroid_fake_normal_more = [
(-29.2,20.6),(-30.4,18.8),(-33.8,17.6),(-35.0,17.0),(-32.6,16.0),(-28.5,15.9),(-26.8,14.4),(-30.0,13.6),(-32.2,13.4),(-34.8,13.2),(-37.9,11.6),(-35.3,11.0),(-32.6,11.4),(-29.8,11.2),(-27.0,11.9),(-24.0,11.2),(-22.6,10.4),(-42.6,10.0),
(-41.4,7.7),(-38.6,9.6),(-35.6,8.0),(-32.6,9.3),(-29.6,7.6),(-26.6,9.5),(-23.6,8.1),(-21.8,7.8),
(-42.8,6.0),(-39.2,5.1),(-36.2,6.2),(-33.2,4.9),(-30.2,6.3),(-27.2,4.8),(-24.2,6.0),(-21.2,6.2),
(-41.2,3.2),(-38.2,4.0),(-35.2,2.4),(-32.2,3.7),(-29.2,2.0),(-26.2,3.5),(-23.2,1.9),(-20.4,2.6),
(-42.2,1.6),(-39.3,0.6),(-36.3,-0.6),(-33.3,0.8),(-30.3,-0.4),(-27.3,-1.2),(-24.3,0.6),(-21.3,-0.2),(-18.8,0.0),
(-42.6,-1.8),(-39.3,-1.4),(-36.8,-3.5),(-33.3,-2.2),(-30.3,-3.0),(-27.3,-3.8),(-24.3,-2.4),(-21.4,-4.4),
(-40.4,-4.8),(-37.6,-4.2),(-34.6,-5.9),(-31.6,-4.4),(-28.6,-5.4),(-25.6,-4.6),(-23.2,-6.0),
(-36.6,-6.6),(-33.0,-8.0),(-31.5,-7.0),(-29.8,-7.9),(-28.2,-6.6),(-26.6,-8.2),(-24.8,-8.6),(-31.4,-10.0),(-30.6,-6.2),(-27.3,-7.4),(-38.2,16.0),(-33.6,19.8),(-27.5,19.8),(-32.0,21.6),
]
thyroid_fake_cancer = [
(12.1,12.0),(10.6,11.6),(11.2,11.0),(9.5,10.7),(13.2,10.1),(14.6,10.8),(16.8,11.2),(22.8,11.5),(23.9,11.6),(24.5,11.0),(25.6,11.6),(26.4,10.2),(27.0,8.8),(28.5,8.2),(25.9,8.3),(22.5,10.5),(21.0,9.3),(19.7,10.0),(18.4,9.3),(17.0,9.8),(15.6,9.5),(14.1,8.9),(12.3,9.4),(10.0,9.0),(8.3,9.7),(7.6,9.5),(9.0,8.3),(11.0,8.0),(13.5,7.9),(15.7,8.1),(17.5,8.2),(19.4,8.4),(21.4,8.0),(23.2,8.6),(24.6,7.9),(26.6,6.9),(25.0,6.4),(22.5,6.6),(20.0,6.8),(18.2,6.4),(16.2,6.9),(14.4,6.2),(12.3,6.5),(10.1,6.6),(8.4,7.0),(9.7,5.5),(11.8,5.0),(13.8,5.2),(15.5,5.6),(17.6,5.0),(19.9,5.3),(21.6,5.4),(23.7,4.7),(26.6,5.2),(28.3,4.4),(30.0,4.8),(31.0,3.4),(29.3,3.0),(27.6,3.5),(25.2,3.3),(22.8,3.1),(20.5,3.7),(18.3,3.2),(16.3,3.6),(14.3,3.0),(11.3,4.1),(9.3,4.5),(8.6,3.6),(10.0,3.0),(12.6,2.7),(15.8,2.3),(19.0,2.2),(22.6,1.5),(20.4,2.4),
(36.3,2.5),(36.0,1.7),(39.8,0.7),(41.6,0.6),(41.5,-0.5),(40.8,-1.2),(33.1,0.4),(33.6,-0.3),(31.3,0.4),(29.7,0.1),(28.0,-0.1),(26.5,0.8),(24.2,0.3),(22.0,-0.5),(20.1,-0.2),(18.3,-0.5),(17.4,-0.9),(19.6,-1.7),(21.8,-2.2),(24.0,-1.6),(26.0,-2.4),(28.3,-1.7),(30.5,-2.4),(32.6,-1.5),(34.8,-2.6),(37.0,-2.0),(38.9,-2.8),(39.6,-3.9),(37.6,-4.1),(35.3,-4.5),(33.1,-4.0),(30.9,-4.4),(28.5,-4.0),(26.2,-4.7),(24.0,-4.1),(21.7,-4.5),(19.5,-4.2),(17.3,-3.6),(15.7,-3.4),(16.2,-5.0),(18.4,-5.6),(20.6,-6.0),(22.9,-5.4),(25.1,-6.2),(27.3,-5.5),(29.5,-6.3),(31.7,-5.2),(33.9,-6.1),(36.0,-5.5),(38.0,-5.7),(13.2,-4.9),(14.3,-6.6),
(17.6,-7.3),(19.7,-8.0),(21.9,-7.5),(24.1,-8.3),(26.3,-7.6),(28.5,-8.5),(30.7,-7.8),(32.9,-8.7),(35.1,-8.2),(37.0,-9.4),(38.8,-10.2),(36.4,-10.5),(34.0,-11.2),(31.8,-10.2),(29.5,-10.9),(27.2,-10.0),(25.0,-10.8),(22.7,-10.1),(20.5,-10.9),(18.2,-10.3),(16.8,-12.0),(19.0,-12.5),(21.4,-13.1),(23.6,-12.2),(25.9,-13.0),(28.2,-12.1),(30.4,-13.2),(32.7,-12.4),(34.9,-13.4),(37.2,-12.0),(38.6,-12.6),(13.1,-12.8),(15.8,-13.8),(17.7,-14.6),(20.0,-14.2),(22.3,-15.0),(24.6,-14.5),(26.9,-15.2),(29.2,-14.3),(31.5,-15.1),(33.8,-14.0),(36.2,-14.9),(16.1,-15.8),(17.0,-16.8),(19.1,-16.2),(21.5,-16.8),(23.8,-15.9),(25.9,-16.5),(28.3,-16.2),(30.3,-17.0),(32.6,-16.5),(35.3,-16.7),(37.7,-15.8),(37.3,-17.0),(16.5,-17.6),
(20.5,-18.2),(22.4,-19.3),(24.3,-18.7),(26.3,-18.2),(28.0,-18.3),(30.2,-18.8),(33.2,-19.8),(35.5,-18.8),(35.0,-17.8),(21.0,-19.6),(23.0,-20.6),(24.6,-20.2),(26.3,-19.7),(27.5,-19.4),(29.3,-20.5),(22.0,-21.0),(23.3,-21.2),(25.0,-21.7),(26.8,-21.3),(29.0,-21.9),(30.1,-22.4),(25.6,-22.6),(24.8,-23.4),(27.7,-24.1),(28.3,-24.2),(26.8,-22.9),(23.7,-22.0),
]
thyroid_fake_cancer_more = [
(11.4,10.6),(13.7,11.3),(15.8,10.6),(18.0,10.4),(20.3,11.0),(24.0,10.0),(21.8,9.8),(8.8,10.5),(10.8,9.6),(13.3,9.2),(16.6,9.0),(19.0,9.5),(20.8,8.6),(22.6,9.2),(25.0,9.4),(26.2,8.4),(27.5,7.6),
(9.7,6.9),(12.2,8.0),(14.6,7.0),(16.8,8.3),(18.6,6.7),(21.0,7.7),(23.6,6.5),(25.8,7.9),(8.0,8.4),
(11.0,5.2),(13.0,6.3),(15.2,5.4),(17.0,6.5),(19.0,5.0),(21.0,6.2),(23.0,5.4),(24.6,6.4),(27.7,5.6),
(9.4,3.6),(12.4,4.6),(15.0,3.4),(17.4,4.5),(19.6,3.7),(22.0,4.9),(24.3,3.6),(26.3,4.4),(29.0,3.9),
(30.6,2.3),(28.2,2.0),(25.4,1.6),(24.2,2.4),(27.0,1.0),(34.6,1.2),(37.4,0.4),(38.6,0.8),
(21.0,-1.2),(23.0,-0.1),(25.0,-1.6),(27.2,-0.4),(29.3,-1.5),(31.5,-0.2),(33.8,-1.4),(36.0,-0.3),(38.2,-1.5),(40.0,-2.4),
(18.2,-2.6),(20.4,-3.8),(22.8,-2.8),(25.0,-3.9),(27.3,-2.6),(29.6,-3.6),(31.8,-2.7),(34.0,-3.8),(36.2,-2.9),(38.4,-4.4),
(17.3,-6.2),(19.4,-7.3),(21.8,-6.2),(24.0,-7.4),(26.2,-6.4),(28.4,-7.6),(30.6,-6.5),(32.8,-7.5),(35.0,-6.6),(37.2,-7.6),
(18.6,-8.8),(20.8,-9.8),(23.2,-8.8),(25.6,-9.7),(27.8,-8.9),(30.2,-9.9),(32.4,-9.0),(34.6,-9.9),(36.8,-11.2),
(17.8,-11.2),(20.0,-12.1),(22.4,-11.2),(24.6,-12.2),(27.0,-11.1),(29.4,-12.3),(31.6,-11.3),(33.8,-12.4),(35.8,-12.8),
(18.4,-13.2),(20.7,-14.1),(23.0,-13.3),(25.3,-14.3),(27.8,-13.4),(30.0,-14.4),(32.4,-13.6),(34.8,-14.8),
(18.3,-15.3),(20.5,-16.1),(22.8,-15.4),(25.0,-16.3),(27.4,-15.3),(29.6,-16.2),(31.9,-15.5),(34.0,-16.2),
(19.4,-17.2),(21.8,-18.1),(23.6,-17.0),(25.2,-18.2),(27.4,-17.1),(29.0,-18.0),(31.4,-17.3),(33.8,-17.9),
(22.6,-18.0),(24.4,-19.6),(26.0,-20.8),(28.4,-19.6),(27.2,-23.0),(24.0,-21.6),(28.2,-21.0),(31.6,-19.2),
]

lung_fake_normal = [
(-10.0,-38.2),(-9.5,-37.8),(-8.0,-37.5),(-7.0,-38.5),(-5.5,-40.3),(-2.8,-40.8),(-1.3,-40.5),(-10.2,-39.8),(-8.5,-40.1),(-12.2,-39.5),(-17.8,-41.3),(-16.3,-41.6),(-14.3,-40.7),(-13.0,-42.3),(-9.0,-41.6),(-3.7,-41.4),(-5.0,-42.7),(-7.3,-40.4),
(-19.8,-44.5),(-18.5,-43.0),(-17.0,-45.1),(-15.5,-43.7),(-14.0,-45.5),(-12.5,-43.5),(-11.0,-45.8),(-9.5,-43.2),(-8.0,-45.3),(-6.5,-43.5),(-5.0,-45.9),(-3.5,-43.4),(-2.0,-45.4),(-0.5,-43.8),(1.0,-46.0),(2.5,-44.5),(-1.2,-47.3),(-16.2,-47.5),(-13.2,-47.8),(-7.2,-47.6),(-10.2,-47.2),(-4.0,-47.8),(1.6,-47.5),(-18.9,-47.0),
(-21.2,-50.2),(-19.8,-49.0),(-18.3,-51.2),(-16.8,-49.4),(-15.3,-52.4),(-13.8,-49.7),(-12.3,-51.6),(-10.8,-49.2),(-9.3,-52.0),(-7.8,-49.8),(-6.3,-51.4),(-4.8,-49.5),(-3.3,-52.2),(-1.8,-50.0),(-0.3,-51.8),(1.2,-49.2),(2.7,-52.5),(4.2,-50.6),(5.7,-49.4),(6.3,-48.5),(7.0,-51.5),(8.5,-50.5),(10.0,-51.0),(11.3,-52.3),(3.2,-48.6),(-20.0,-53.4),(-13.0,-53.5),(-6.7,-53.7),(0.2,-53.8),(4.2,-53.5),
(-22.4,-55.0),(-21.0,-56.5),(-19.2,-54.6),(-17.5,-57.4),(-16.0,-55.4),(-14.5,-57.8),(-13.0,-55.2),(-11.5,-57.2),(-10.0,-55.8),(-8.5,-58.3),(-7.0,-55.5),(-5.5,-57.9),(-4.0,-55.1),(-2.5,-57.6),(-1.0,-55.6),(0.5,-58.0),(2.0,-55.3),(3.5,-57.4),(5.0,-55.2),(6.5,-57.0),(8.0,-56.0),(9.5,-57.3),(10.5,-56.5),(-18.2,-59.3),(-10.8,-59.6),(-3.4,-59.8),(1.3,-59.4),(5.5,-59.0),(-15.0,-59.5),
(-19.5,-61.8),(-18.0,-61.0),(-16.5,-63.3),(-15.0,-61.2),(-13.5,-63.6),(-12.0,-61.5),(-10.5,-63.8),(-9.0,-61.0),(-7.5,-63.4),(-6.0,-61.6),(-4.5,-64.0),(-3.0,-61.2),(-1.5,-63.6),(0.0,-61.8),(1.5,-64.2),(3.0,-61.5),(4.5,-63.7),(6.0,-62.0),(7.5,-64.5),(8.6,-61.5),(-17.2,-64.8),(-11.2,-65.3),(-5.2,-65.5),(0.8,-65.2),(-14.0,-66.0),
(-18.0,-64.8),(-16.8,-65.6),(-13.5,-66.8),(-12.0,-66.3),(-7.6,-66.5),(-6.8,-68.2),(-6.0,-69.2),(-5.3,-70.5),(-4.4,-68.8),(-3.8,-70.8),(-2.6,-67.8),(-2.0,-69.5),(-1.2,-70.0),(0.6,-68.2),(2.8,-67.6),(3.4,-66.2),(5.2,-67.2),(-9.2,-67.2),(-8.0,-68.0),(-10.4,-66.5),
]
lung_fake_normal_more = [
(-20.6,-52.2),(-18.8,-50.4),(-17.6,-53.5),(-16.2,-45.8),(-14.8,-47.2),(-13.4,-44.0),(-12.0,-49.2),(-10.6,-41.2),(-9.2,-45.0),(-7.8,-42.4),(-6.4,-47.0),(-5.0,-41.0),(-3.6,-46.4),(-2.2,-43.0),(-0.8,-48.2),(0.6,-45.0),(2.0,-50.4),(3.4,-46.4),(-19.6,-57.2),(-18.4,-56.2),(-17.0,-59.6),(-15.6,-54.2),(-14.2,-60.4),(-12.8,-57.2),(-11.4,-53.6),(-10.0,-60.6),(-8.6,-55.0),(-7.2,-59.8),(-5.8,-53.2),(-4.4,-60.8),(-3.0,-54.8),(-1.6,-58.8),(-0.2,-53.4),(1.2,-57.2),(2.6,-60.6),(4.0,-54.8),(5.4,-62.0),(6.8,-53.8),(8.2,-58.4),(9.6,-54.8),(-20.8,-60.2),(-18.8,-63.0),(-16.0,-62.4),(-14.4,-64.8),(-12.6,-62.6),(-11.2,-60.8),(-9.8,-64.8),(-8.4,-62.6),(-7.0,-66.0),(-5.6,-63.0),(-4.2,-67.0),(-2.8,-62.8),(-1.4,-66.2),(0.0,-63.4),(1.4,-67.8),(2.8,-63.0),(4.2,-65.4),(6.4,-65.6),(7.8,-60.0),(-5.8,-67.8),(-4.6,-70.0),(-3.0,-69.2),(-2.0,-71.2),(-0.4,-68.4),(1.8,-69.6),(-8.8,-69.4),(-10.4,-68.6),(-12.8,-64.8),(-15.6,-66.2),(-17.6,-62.4),(-19.0,-59.2),(-21.6,-53.8),(-22.0,-56.8),(5.2,-47.4),(7.6,-48.8),(9.2,-49.2),(10.8,-53.4),(4.0,-59.4),(6.8,-60.6),(-3.6,-50.8),(-6.8,-51.4),(-9.8,-50.8),(-15.2,-50.4),(-8.0,-57.0),(-2.0,-57.0),
]
lung_fake_cancer = [
(-5.2,58.2),(-3.5,57.0),(-1.8,58.5),(-0.2,57.3),(1.4,58.0),(3.0,57.6),(5.5,56.6),(6.8,57.2),(-8.0,56.0),(-6.3,55.5),(-4.4,55.6),(-2.5,55.2),(0.6,55.6),(2.5,55.4),(4.1,55.8),(-9.4,56.1),(-10.7,55.3),
(-13.0,51.0),(-11.5,53.5),(-10.0,52.4),(-8.5,53.9),(-7.0,52.0),(-5.5,53.4),(-4.0,51.6),(-2.5,53.0),(-1.0,51.4),(0.5,53.2),(2.0,51.8),(3.5,53.5),(5.0,51.3),(6.5,52.5),(8.0,53.2),(9.5,52.6),(11.0,51.0),(12.5,53.0),(13.6,51.5),(13.0,52.4),(-12.0,50.2),(-6.2,50.5),(1.2,50.4),(7.2,50.6),(10.2,54.0),(-14.8,50.3),
(-16.0,47.2),(-14.5,46.3),(-13.0,48.6),(-11.5,46.5),(-10.0,48.3),(-8.5,46.0),(-7.0,48.2),(-5.5,46.4),(-4.0,49.0),(-2.5,46.8),(-1.0,48.5),(0.5,46.2),(2.0,48.8),(3.5,46.5),(5.0,48.0),(6.5,46.4),(8.0,48.7),(9.5,46.6),(11.0,48.0),(12.6,46.3),(14.0,45.5),(-15.0,45.3),(-3.2,45.4),(4.2,45.3),
(-18.5,42.3),(-17.2,43.8),(-16.0,44.2),(-14.2,43.5),(-12.8,41.6),(-11.2,44.2),(-9.7,42.2),(-8.2,44.0),(-6.7,41.5),(-5.2,43.5),(-3.7,41.0),(-2.2,43.2),(-0.7,41.6),(0.8,43.8),(2.3,41.3),(3.8,43.4),(5.3,41.4),(6.8,43.6),(8.3,41.8),(9.8,43.3),(11.3,41.2),(12.8,43.0),(14.5,42.5),(15.8,43.4),(18.0,41.0),(19.2,38.5),(18.0,38.2),(-13.5,40.2),(-7.4,40.1),(1.7,40.2),(-17.0,40.6),
(-17.2,38.0),(-15.8,36.2),(-14.3,38.4),(-12.8,35.8),(-11.3,38.1),(-9.8,35.5),(-8.3,38.0),(-6.8,35.9),(-5.3,37.6),(-3.8,35.4),(-2.3,38.2),(-0.8,36.1),(0.7,38.4),(2.2,35.9),(3.7,37.8),(5.2,35.6),(6.7,38.3),(8.2,36.0),(9.7,37.8),(11.2,35.6),(12.7,38.2),(14.2,36.1),(15.5,33.4),(16.0,33.0),(17.8,29.3),(18.4,29.3),(-15.3,34.4),(-14.7,34.6),
(-13.0,33.5),(-11.6,31.0),(-10.1,33.2),(-8.6,30.7),(-7.1,32.9),(-5.6,30.5),(-4.1,33.3),(-2.6,31.0),(-1.1,33.6),(0.4,30.8),(1.9,33.0),(3.4,31.3),(4.9,33.4),(6.4,30.7),(7.9,32.8),(9.4,31.0),(10.9,33.0),(12.4,30.5),(13.9,32.1),(-14.8,31.0),(-12.0,30.0),
(-15.5,27.0),(-13.5,25.5),(-12.0,28.3),(-10.5,26.0),(-9.0,28.5),(-7.5,25.8),(-6.0,28.0),(-4.5,26.0),(-3.0,28.4),(-1.5,25.6),(0.0,28.2),(1.5,26.0),(3.0,28.6),(4.5,25.8),(6.0,28.0),(7.5,26.2),(9.0,28.4),(10.5,25.6),(12.0,27.5),(13.5,25.5),(15.0,26.4),(-14.0,24.5),
(-16.4,20.8),(-15.5,21.0),(-12.4,21.5),(-11.0,23.4),(-9.5,21.3),(-8.0,23.8),(-6.5,21.2),(-5.0,23.5),(-3.5,21.0),(-2.0,23.2),(-0.5,20.8),(1.0,23.6),(2.5,21.4),(4.0,23.8),(5.5,21.0),(7.0,23.3),(8.5,21.2),(10.0,23.6),(11.5,21.0),(13.0,22.8),(14.5,20.5),(15.6,21.4),(15.8,20.2),
(-15.8,16.5),(-14.2,18.5),(-12.7,16.2),(-11.2,18.8),(-9.7,16.0),(-8.2,18.4),(-6.7,16.4),(-5.2,18.6),(-3.7,16.0),(-2.2,18.2),(-0.7,16.2),(0.8,18.6),(2.3,16.0),(3.8,18.4),(5.3,16.5),(6.8,18.5),(8.3,16.2),(9.8,18.8),(11.3,16.0),(12.8,18.3),(14.3,16.6),(15.3,17.0),
(-17.0,12.6),(-15.0,10.3),(-13.5,13.0),(-12.0,11.5),(-10.5,13.5),(-9.0,11.0),(-7.5,13.8),(-6.0,10.6),(-4.5,13.2),(-3.0,11.3),(-1.5,13.6),(0.0,11.0),(1.5,13.4),(3.0,10.8),(4.5,13.0),(6.0,11.3),(7.5,13.7),(9.0,11.0),(10.5,13.5),(12.0,11.6),(13.5,14.0),(15.0,12.3),(17.0,11.0),(18.4,10.2),(19.5,11.5),(20.4,10.6),(21.0,11.3),(22.5,11.5),
(-15.8,8.0),(-14.2,6.2),(-12.6,9.0),(-11.0,6.4),(-9.5,8.8),(-8.0,6.0),(-6.5,8.5),(-5.0,5.8),(-3.5,9.0),(-2.0,6.4),(-0.5,8.3),(1.0,5.8),(2.5,8.8),(4.0,6.2),(5.5,8.5),(7.0,5.5),(8.5,8.6),(10.0,6.5),(11.5,9.1),(13.0,6.0),(14.5,8.2),(16.0,5.3),(17.3,7.2),(18.4,8.6),(19.0,7.4),(14.8,5.1),
(-14.2,2.6),(-13.0,3.4),(-11.5,1.4),(-10.0,3.6),(-8.5,1.2),(-7.0,3.0),(-3.0,2.6),(-1.5,3.5),(0.0,1.4),(1.5,3.8),(3.0,1.5),(4.5,3.5),(6.0,1.0),(7.5,3.3),(9.0,1.2),(10.5,3.7),(12.0,1.5),(13.5,3.8),(15.5,4.0),(17.6,3.6),(20.5,1.3),(21.5,1.0),(-4.8,4.8),(-12.2,-1.0),
(-12.0,-3.0),(-11.8,-3.8),(-10.3,-5.9),(-9.7,-6.5),(-8.8,-4.6),(-8.4,-5.6),(-6.3,-4.6),(-1.2,-3.6),(1.5,-2.2),(3.0,-4.0),(4.5,-1.6),(6.0,-3.6),(7.5,-1.2),(9.0,-3.8),(10.5,-1.8),(12.0,-3.6),(13.5,-1.0),(14.5,-3.0),(16.0,-2.0),(16.7,-1.2),(2.4,-0.6),(-4.6,-2.0),
(-0.5,-8.6),(0.8,-5.8),(2.0,-7.6),(3.2,-9.4),(4.6,-6.4),(5.8,-8.8),(7.2,-6.0),(8.5,-8.2),(9.8,-5.6),(11.0,-9.2),(12.4,-6.6),(13.6,-8.0),(14.8,-5.8),(2.6,-5.0),(6.4,-5.2),(10.5,-7.4),
(-1.8,-14.8),(-0.6,-15.8),(0.5,-12.8),(1.2,-15.7),(2.4,-13.4),(3.0,-14.8),(4.2,-11.2),(4.8,-14.3),(5.4,-17.0),(6.2,-13.0),(6.5,-17.8),(7.2,-18.6),(7.6,-19.8),(8.1,-14.4),(9.0,-12.0),(9.6,-15.2),(10.6,-11.6),(11.3,-14.4),(12.6,-11.2),(13.2,-13.3),(15.2,-12.5),(15.6,-13.6),(3.6,-10.6),(8.2,-10.5),(11.8,-12.8),(-1.0,-11.4),
]
lung_fake_cancer_more = [
(-4.4,57.8),(-2.6,56.1),(0.6,56.9),(2.2,55.9),(4.0,57.4),(-7.2,54.3),(-5.4,56.7),(-3.4,53.9),(-0.8,54.6),(1.6,56.8),(3.3,53.8),(5.2,54.6),(7.6,55.4),(9.0,54.6),
(-12.2,52.4),(-9.2,50.7),(-7.8,49.4),(-4.6,52.6),(-3.2,50.1),(-1.8,49.2),(0.0,50.8),(2.8,49.6),(4.4,52.4),(5.8,49.9),(8.8,51.2),(10.4,49.8),(11.8,52.6),
(-15.4,48.6),(-13.8,45.6),(-12.2,47.8),(-10.8,45.1),(-9.2,49.7),(-7.8,45.8),(-6.2,47.9),(-4.8,44.6),(-3.2,48.3),(-1.8,45.0),(-0.2,49.8),(1.2,45.4),(2.8,47.2),(4.2,49.7),(5.8,44.8),(7.2,47.4),(8.8,45.2),(10.2,49.6),(11.8,44.9),(13.4,47.8),
(-17.8,43.0),(-15.0,41.2),(-13.5,44.9),(-12.0,39.9),(-10.5,41.5),(-9.0,44.8),(-7.5,39.6),(-6.0,42.3),(-4.4,44.6),(-3.0,39.5),(-1.4,42.0),(0.0,40.3),(1.5,44.9),(3.0,39.7),(4.6,42.8),(6.0,40.2),(7.5,45.0),(9.0,39.6),(10.6,42.6),(12.0,44.5),(13.6,39.8),(15.2,41.8),(16.8,40.4),
(-16.4,37.2),(-15.0,39.0),(-13.6,35.0),(-12.1,39.6),(-10.6,37.3),(-9.0,34.5),(-7.6,39.2),(-6.0,34.0),(-4.6,38.9),(-3.0,36.9),(-1.5,34.3),(0.0,39.6),(1.5,37.0),(3.0,34.1),(4.4,39.2),(6.0,36.6),(7.4,34.2),(9.0,39.5),(10.4,34.4),(12.0,36.9),(13.4,34.0),(15.0,38.8),
(-14.0,32.2),(-12.4,34.3),(-10.8,29.6),(-9.4,34.5),(-7.8,30.0),(-6.4,32.2),(-4.8,29.3),(-3.4,34.6),(-1.8,29.8),(-0.4,32.2),(1.2,34.7),(2.6,29.4),(4.2,32.0),(5.6,34.6),(7.2,29.6),(8.6,34.4),(10.2,29.2),(11.6,34.2),(13.2,29.0),(14.6,30.6),
(-14.6,28.2),(-13.0,29.3),(-11.2,24.4),(-9.8,26.8),(-8.2,29.6),(-6.8,24.0),(-5.2,27.4),(-3.8,29.9),(-2.2,24.2),(-0.8,26.9),(0.8,29.6),(2.2,24.1),(3.8,27.2),(5.2,29.4),(6.8,23.9),(8.2,26.8),(9.8,29.8),(11.2,24.2),(12.8,29.0),(14.2,27.0),(16.2,27.4),
(-13.0,22.4),(-10.2,19.6),(-8.8,24.4),(-7.2,19.4),(-5.8,22.0),(-4.2,24.7),(-2.8,19.5),(-1.2,22.6),(0.2,19.8),(1.8,24.6),(3.2,19.3),(4.8,22.1),(6.2,24.4),(7.8,19.5),(9.2,22.4),(10.8,19.9),(12.2,24.6),(13.8,19.2),
(-14.8,14.6),(-13.4,19.6),(-12.0,14.9),(-10.4,17.4),(-9.0,19.5),(-7.4,14.3),(-6.0,17.3),(-4.4,14.5),(-3.0,19.7),(-1.4,14.6),(0.0,17.4),(1.6,14.5),(3.0,19.8),(4.6,14.8),(6.0,16.6),(7.6,14.4),(9.0,19.4),(10.6,14.7),(12.0,17.1),(13.6,19.2),
(-16.0,11.8),(-14.2,14.0),(-12.8,9.6),(-11.2,14.5),(-9.8,12.8),(-8.2,9.4),(-6.8,14.6),(-5.2,9.2),(-3.8,12.2),(-2.2,9.6),(-0.8,14.8),(0.8,9.4),(2.2,12.1),(3.8,14.5),(5.2,9.2),(6.8,12.5),(8.2,9.4),(9.8,14.6),(11.2,9.5),(12.8,12.8),(14.2,9.3),(16.2,12.0),(18.0,11.8),
(-14.8,7.0),(-13.4,4.4),(-11.8,9.4),(-10.2,4.6),(-8.8,7.4),(-7.2,9.7),(-5.8,4.4),(-4.2,7.0),(-2.8,4.6),(-1.2,9.8),(0.2,4.2),(1.8,7.2),(3.2,4.4),(4.8,9.6),(6.2,4.3),(7.8,7.1),(9.2,4.6),(10.8,9.8),(12.2,4.2),(13.8,7.2),(15.4,6.8),
(-13.6,4.6),(-12.4,-0.4),(-10.8,2.4),(-9.2,-0.6),(-7.8,2.2),(-2.2,0.0),(-0.8,4.2),(0.8,-0.4),(2.2,2.8),(3.8,-0.6),(5.2,4.2),(6.8,-0.2),(8.2,2.4),(9.8,-0.6),(11.2,4.2),(12.8,-0.4),(14.4,2.4),(16.6,0.6),
(0.6,-2.8),(2.2,-4.6),(3.8,-1.2),(5.2,-5.2),(6.8,-2.4),(8.2,-4.8),(9.8,-1.4),(11.2,-5.0),(12.8,-2.4),(15.2,-1.6),
(1.4,-6.6),(2.8,-9.2),(4.0,-8.0),(5.2,-10.2),(6.6,-7.2),(7.8,-9.6),(9.2,-7.0),(11.8,-7.8),(13.0,-5.4),
(1.8,-10.2),(3.0,-12.0),(5.4,-10.0),(5.6,-12.0),(7.0,-11.2),(7.6,-12.8),(10.0,-10.0),(10.2,-13.2),(12.0,-10.2),(14.0,-11.6),(4.0,-15.6),(6.0,-15.6),(8.8,-16.0),(6.8,-16.4),(2.0,-14.0),(-0.2,-14.2),(14.4,-9.6),(12.8,-9.4),
]

series_names = ["normal", "cancer"]
captions = ["(a)  Colon(real)", "(b)  Thyroid(real)", "(c)  Lung(real)",
            "(d)  Colon(fake)", "(e)  Thyroid(fake)", "(f)  Lung(fake)"]
panel_data = [
    (colon_real_normal + colon_real_normal_more, colon_real_cancer + colon_real_cancer_more),
    (thyroid_real_normal + thyroid_real_normal_more, thyroid_real_cancer + thyroid_real_cancer_more),
    (lung_real_normal + lung_real_normal_more, lung_real_cancer + lung_real_cancer_more),
    (colon_fake_normal + colon_fake_normal_more, colon_fake_cancer + colon_fake_cancer_more),
    (thyroid_fake_normal + thyroid_fake_normal_more, thyroid_fake_cancer + thyroid_fake_cancer_more),
    (lung_fake_normal + lung_fake_normal_more, lung_fake_cancer + lung_fake_cancer_more),
]
x_ticks = [[-40, -20, 0, 20], [-20, -10, 0, 10, 20], [-20, 0, 20],
           [-20, -10, 0, 10, 20], [-40, -20, 0, 20, 40], [-20, -10, 0, 10, 20]]
y_ticks = [[-30, -20, -10, 0, 10, 20], [-30, -20, -10, 0, 10, 20, 30],
           [-30, -20, -10, 0, 10, 20, 30, 40, 50], [-40, -30, -20, -10, 0, 10, 20, 30, 40],
           [-20, -10, 0, 10, 20], [-60, -40, -20, 0, 20, 40, 60]]

# ---------------- layout config (pixels in a 904x715 page) ----------------
W, H = 904, 715
boxes = [  # left, right, top, bottom
    (45, 291, 14, 284), (353, 602, 10, 283), (663, 904, 8, 283),
    (41, 292, 369, 646), (353, 602, 370, 645), (663, 904, 370, 646),
]
x_ranges = [(-40.84, 36.3), (-29.36, 25.6), (-37.4, 35.8),
            (-22.0, 28.8), (-49.6, 45.6), (-25.1, 23.0)]
y_ranges = [(-30.1, 22.95), (-30.3, 33.3), (-34.2, 52.6),
            (-42.8, 46.4), (-26.3, 25.3), (-77.4, 65.2)]
legend_pos = [(51, 237), (360, 16), (816, 15), (194, 375), (506, 376), (816, 598)]
caption_pos = [(146, 337), (455, 337), (767, 337), (146, 702), (460, 702), (766, 702)]
open_right = [False, False, True, False, False, True]
colors = ["#1f77b4", "#ff7f0e"]

fig = go.Figure()
layout = dict(width=W, height=H, margin=dict(l=0, r=0, t=0, b=0, autoexpand=False),
              paper_bgcolor="white", plot_bgcolor="white", showlegend=True,
              font=dict(family="DejaVu Sans", size=12, color="black"))
annotations = []
for i, (pts_n, pts_c) in enumerate(panel_data):
    sfx = "" if i == 0 else str(i + 1)
    leg = "legend" + sfx
    for name, pts, col in zip(series_names, (pts_n, pts_c), colors):
        fig.add_trace(go.Scatter(
            x=[p[0] for p in pts], y=[p[1] for p in pts], mode="markers", name=name,
            marker=dict(size=4.3, color=col, line=dict(width=0)),
            xaxis="x" + sfx, yaxis="y" + sfx, legend=leg, showlegend=True,
            cliponaxis=True))
    l, r, t, b = boxes[i]
    common = dict(showgrid=False, zeroline=False, showline=True, linecolor="#222222",
                  linewidth=1, ticks="outside", ticklen=4, tickwidth=1, tickcolor="#222222",
                  tickfont=dict(family="DejaVu Sans", size=12, color="#111111"))
    layout["xaxis" + sfx] = dict(domain=[l / W, r / W], range=list(x_ranges[i]),
                                 tickvals=x_ticks[i], anchor="y" + sfx, mirror=True, **common)
    layout["yaxis" + sfx] = dict(domain=[1 - b / H, 1 - t / H], range=list(y_ranges[i]),
                                 tickvals=y_ticks[i], anchor="x" + sfx,
                                 mirror=not open_right[i], **common)
    lx, ly = legend_pos[i]
    layout[leg] = dict(x=lx / W, y=1 - ly / H, xanchor="left", yanchor="top",
                       xref="paper", yref="paper",
                       bgcolor="rgba(255,255,255,0.8)", bordercolor="#cccccc", borderwidth=1,
                       font=dict(family="DejaVu Sans", size=12, color="black"),
                       itemsizing="trace", tracegroupgap=0)
    cx, cy = caption_pos[i]
    annotations.append(dict(text=captions[i], x=cx / W, y=1 - cy / H, xref="paper", yref="paper",
                            xanchor="center", yanchor="middle", showarrow=False,
                            font=dict(family="Liberation Serif", size=24, color="black")))
layout["annotations"] = annotations
fig.update_layout(**layout)
fig.write_html("out.html")
